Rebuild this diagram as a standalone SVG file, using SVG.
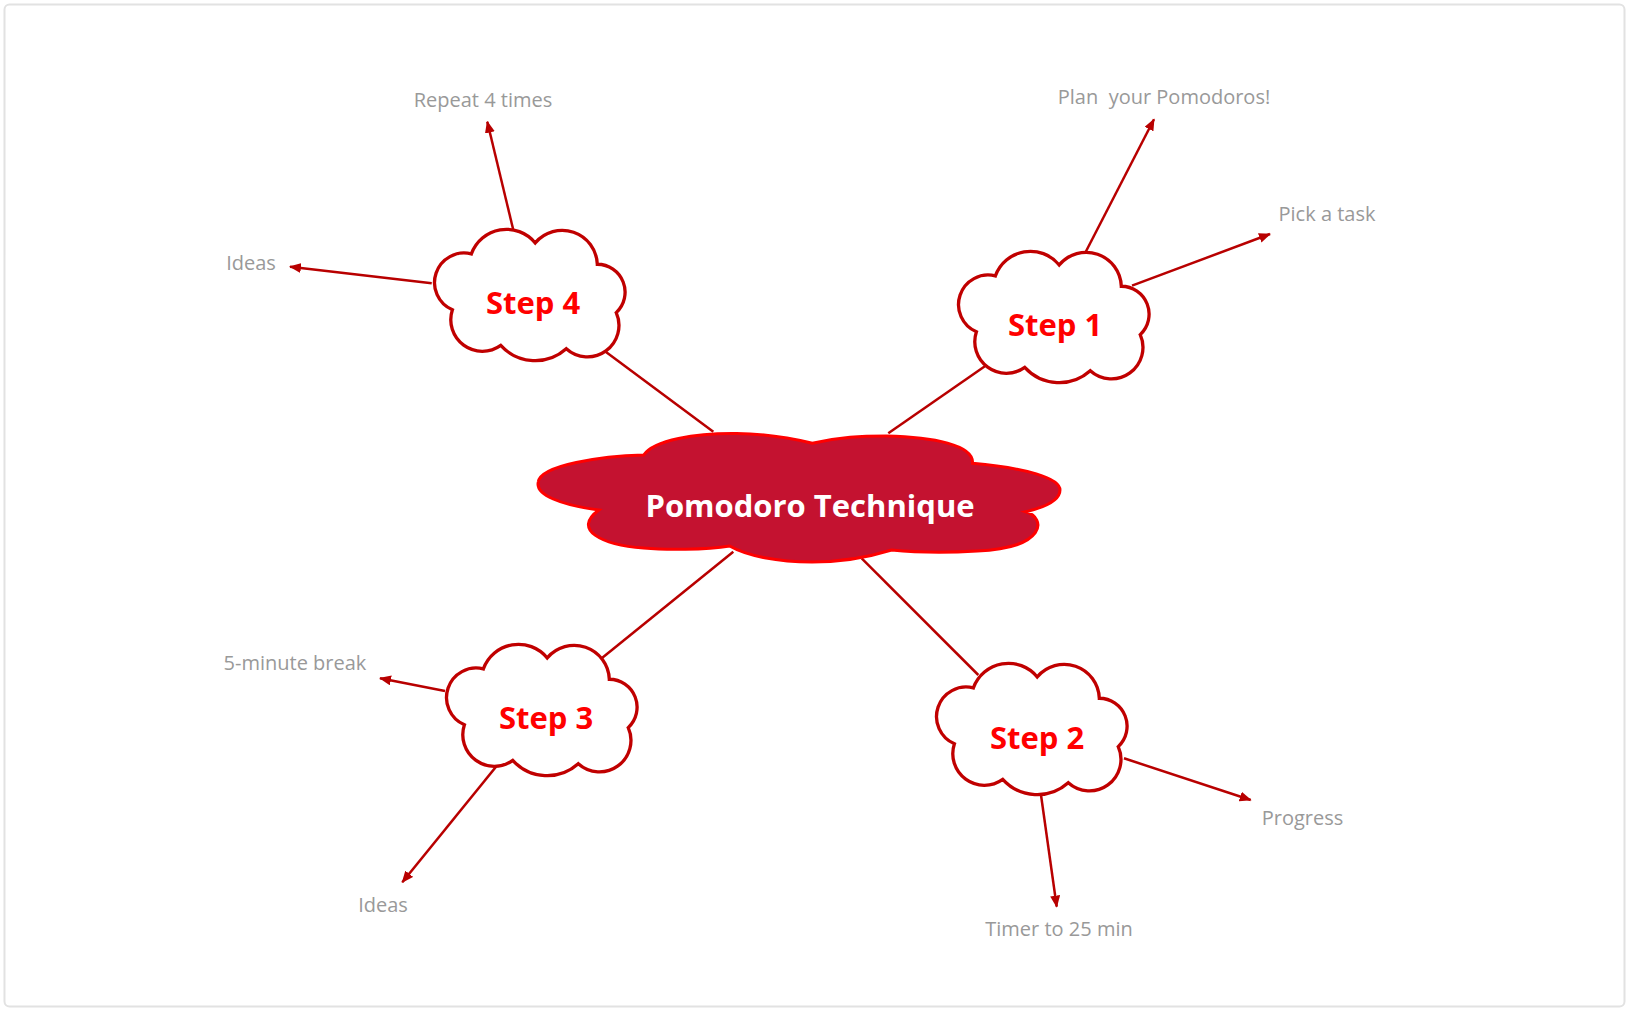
<svg xmlns="http://www.w3.org/2000/svg" width="1629" height="1011" viewBox="0 0 1629 1011">
  <style>
    .step { fill: #ffffff; stroke: #C00000; stroke-width: 3.2; }
    .steptxt { font-family: "Open Sans", "Noto Sans", "Liberation Sans", sans-serif; font-weight: bold; font-size: 31px; fill: #FF0000; text-anchor: middle; }
    .lbl { font-family: "Open Sans", "Noto Sans", "Liberation Sans", sans-serif; font-size: 20px; fill: #999999; text-anchor: middle; white-space: pre; }
    .link { stroke: #B80000; stroke-width: 2.5; fill: none; }
    .arrow { stroke: #B80000; stroke-width: 2.5; fill: none; marker-end: url(#ah); }
  </style>
  <defs>
    <marker id="ah" viewBox="0 0 12 10" refX="11" refY="5" markerWidth="12" markerHeight="10" markerUnits="userSpaceOnUse" orient="auto">
      <path d="M0,0 L12,5 L0,10 z" fill="#B80000"/>
    </marker>
    <path id="cloud" d="M 40.3 23.3 A 36 36 0 0 1 102 12.7 A 34 34 0 0 1 162 33.3 A 27 27 0 0 1 180.3 80 A 30.5 30.5 0 0 1 132 115 A 45 45 0 0 1 68.7 111.7 A 30.5 30.5 0 0 1 22 77.3 A 28.6 28.6 0 0 1 40.3 23.3 Z"/>
  </defs>
  <rect x="0" y="0" width="1629" height="1011" fill="#ffffff"/>
  <rect x="4.5" y="4.5" width="1620" height="1002" rx="5" fill="#ffffff" stroke="#e2e2e2" stroke-width="2"/>

  <g id="connectors">
    <line class="link" x1="713.3" y1="431.7" x2="603.3" y2="350"/>
    <line class="link" x1="888.3" y1="433.3" x2="986.7" y2="365"/>
    <line class="link" x1="733.3" y1="551.7" x2="601.7" y2="658.3"/>
    <line class="link" x1="861.7" y1="558.3" x2="978.3" y2="675"/>
    <line class="arrow" x1="513.3" y1="230" x2="487.3" y2="121.7"/>
    <line class="arrow" x1="431.7" y1="283.3" x2="290" y2="266.7"/>
    <line class="arrow" x1="1085" y1="253.3" x2="1154" y2="119.3"/>
    <line class="arrow" x1="1132" y1="285.7" x2="1270" y2="234"/>
    <line class="arrow" x1="1124" y1="758.3" x2="1250.7" y2="800"/>
    <line class="arrow" x1="1041" y1="795" x2="1056.7" y2="906.7"/>
    <line class="arrow" x1="445" y1="691" x2="380" y2="678.3"/>
    <line class="arrow" x1="499.3" y1="762.7" x2="402.3" y2="882.3"/>
  </g>

  <g id="center">
    <path transform="matrix(1.0331 0 0 1 -17.54 0)" vector-effect="non-scaling-stroke" d="M 596.7 510 C 560 505 535 495 538 482 C 540 465 600 456 640 455 C 650 440 690 433 730 433.5 C 765 434 790 440 803.3 443.3 C 830 437 850 436 875 436 C 920 437 960 445 958.3 463.3 C 1010 468 1043 478 1043 490 C 1043 502 1025 508 1010 511.7 C 1030 518 1030 548 963 551 C 930 553 900 552 880 550 C 855 558 830 562 803 562 C 770 562 740 556 723.3 546 C 700 550 660 550 640 548 C 600 545 570 530 596.7 510 Z" fill="#C41230" stroke="#FF0000" stroke-width="3"/>
    <text x="810" y="517" font-family="Open Sans, Noto Sans, Liberation Sans, sans-serif" font-weight="bold" font-size="31" fill="#ffffff" text-anchor="middle">Pomodoro Technique</text>
  </g>

  <g id="step1">
    <use href="#cloud" class="step" transform="translate(957,254) translate(96,63) scale(1.035) translate(-96,-63)"/>
    <text class="steptxt" x="1055" y="336">Step 1</text>
  </g>
  <g id="step2">
    <use href="#cloud" class="step" transform="translate(935,666) translate(96,63) scale(1.035) translate(-96,-63)"/>
    <text class="steptxt" x="1037" y="749">Step 2</text>
  </g>
  <g id="step3">
    <use href="#cloud" class="step" transform="translate(445,647) translate(96,63) scale(1.035) translate(-96,-63)"/>
    <text class="steptxt" x="546" y="729">Step 3</text>
  </g>
  <g id="step4">
    <use href="#cloud" class="step" transform="translate(433,232) translate(96,63) scale(1.035) translate(-96,-63)"/>
    <text class="steptxt" x="533" y="314">Step 4</text>
  </g>

  <g id="labels">
    <text class="lbl" x="483" y="106.7">Repeat 4 times</text>
    <text class="lbl" x="251" y="270">Ideas</text>
    <text class="lbl" x="1164" y="104">Plan  your Pomodoros!</text>
    <text class="lbl" x="1327" y="220.7">Pick a task</text>
    <text class="lbl" x="1302.5" y="825">Progress</text>
    <text class="lbl" x="1059" y="936">Timer to 25 min</text>
    <text class="lbl" x="295" y="670">5-minute break</text>
    <text class="lbl" x="383" y="912.3">Ideas</text>
  </g>
</svg>
